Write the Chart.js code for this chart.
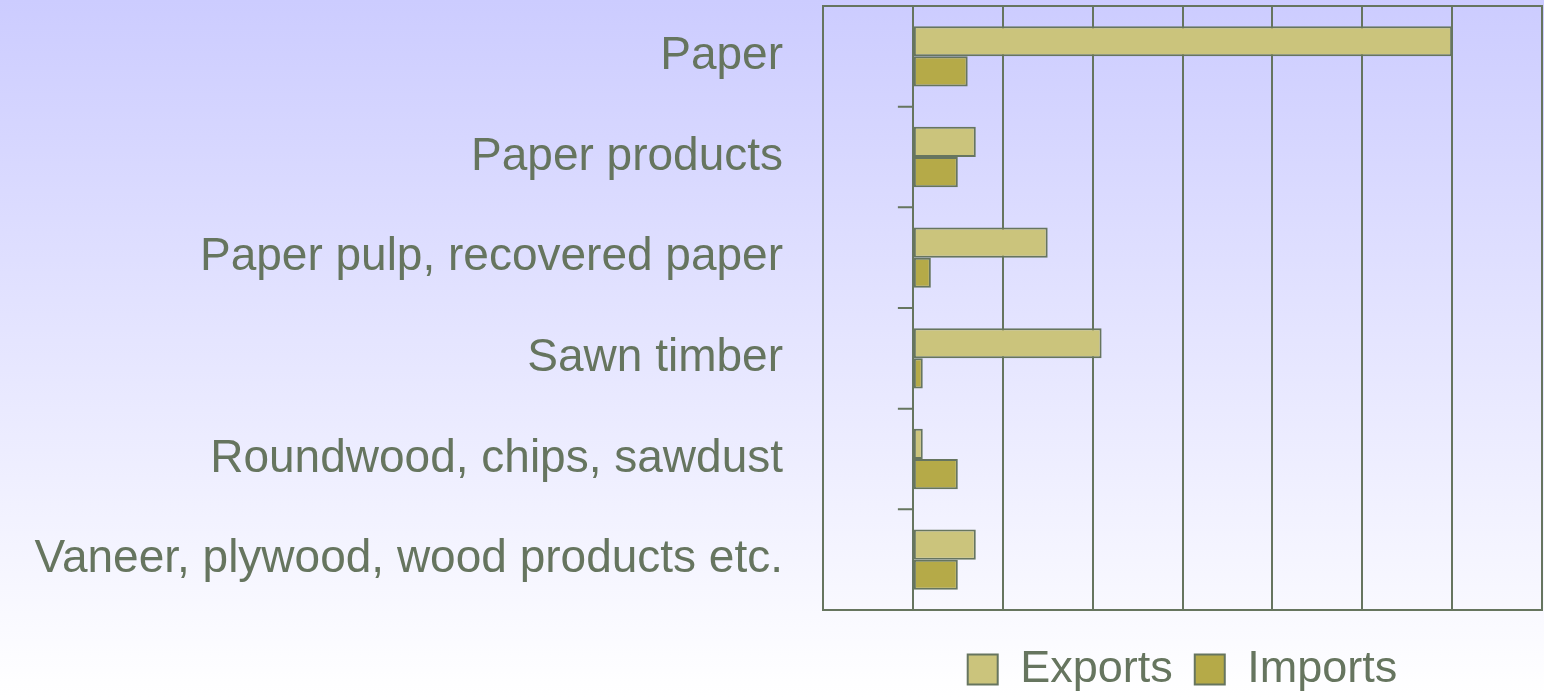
<!DOCTYPE html>
<html>
<head>
<meta charset="utf-8">
<script src="https://cdn.jsdelivr.net/npm/chart.js@4.4.1/dist/chart.umd.min.js"></script>
<style>
  html, body { margin: 0; padding: 0; }
  body {
    width: 1544px; height: 697px; overflow: hidden;
    background: linear-gradient(#ccccff 0%, #ffffff 100%);
  }
  #wrap { position: relative; width: 1544px; height: 697px; }
</style>
</head>
<body>
<div id="wrap"><canvas id="chart" width="1544" height="697"></canvas></div>
<script>
const categories = [
    'Paper',
    'Paper products',
    'Paper pulp, recovered paper',
    'Sawn timber',
    'Roundwood, chips, sawdust',
    'Vaneer, plywood, wood products etc.'
];
const exportsValues = [6.0, 0.7, 1.5, 2.1, 0.11, 0.7];
const importsValues = [0.61, 0.5, 0.2, 0.11, 0.5, 0.5];

const lineColor = '#66755f';

// frame round the plot and the small ticks on the zero line
const framePlugin = {
    id: 'frame',
    afterDraw(chart) {
        const ctx = chart.ctx;
        const area = chart.chartArea;
        const x = chart.scales.x;
        const y = chart.scales.y;
        ctx.save();
        ctx.strokeStyle = lineColor;
        ctx.lineWidth = 2;
        ctx.strokeRect(area.left, area.top, area.right - area.left, area.bottom - area.top);
        const x0 = x.getPixelForValue(0);
        ctx.beginPath();
        for (let i = 0; i <= categories.length; i++) {
            let py;
            if (i === 0) py = area.top;
            else if (i === categories.length) py = area.bottom;
            else py = (y.getPixelForValue(i - 1) + y.getPixelForValue(i)) / 2;
            ctx.moveTo(x0 - 15, py);
            ctx.lineTo(x0, py);
        }
        ctx.stroke();
        ctx.restore();
    }
};

Chart.defaults.font.family = '"Liberation Sans", Arial, sans-serif';
Chart.defaults.color = lineColor;

new Chart(document.getElementById('chart'), {
    type: 'bar',
    data: {
        labels: categories,
        datasets: [{
            label: 'Exports',
            data: exportsValues,
            backgroundColor: '#cbc47c',
            borderColor: lineColor,
            borderWidth: 2,
            borderSkipped: false,
            categoryPercentage: 0.6,
            barPercentage: 1.0
        }, {
            label: 'Imports',
            data: importsValues,
            backgroundColor: '#b5aa48',
            borderColor: lineColor,
            borderWidth: 2,
            borderSkipped: false,
            categoryPercentage: 0.6,
            barPercentage: 1.0
        }]
    },
    options: {
        indexAxis: 'y',
        responsive: false,
        animation: false,
        devicePixelRatio: 1,
        layout: { padding: { top: 6, right: 2, bottom: -5, left: 0 } },
        scales: {
            x: {
                min: -1,
                max: 7,
                ticks: { display: false, stepSize: 1 },
                grid: { color: lineColor, lineWidth: 2, drawTicks: false },
                border: { display: false },
                afterFit(scale) { scale.height = 15; }
            },
            y: {
                ticks: { font: { size: 46 }, color: lineColor, padding: 0 },
                grid: { drawOnChartArea: false, tickLength: 40, tickColor: 'rgba(0,0,0,0)' },
                border: { display: false },
                afterFit(scale) {
                    scale.width = 823;
                    scale.paddingTop = 0;
                    scale.paddingBottom = 0;
                }
            }
        },
        plugins: {
            tooltip: { enabled: false },
            legend: {
                position: 'bottom',
                fullSize: false,
                labels: {
                    boxWidth: 30,
                    boxHeight: 30,
                    padding: 22,
                    color: lineColor,
                    font: { size: 45 }
                }
            }
        }
    },
    plugins: [framePlugin]
});
</script>
</body>
</html>
